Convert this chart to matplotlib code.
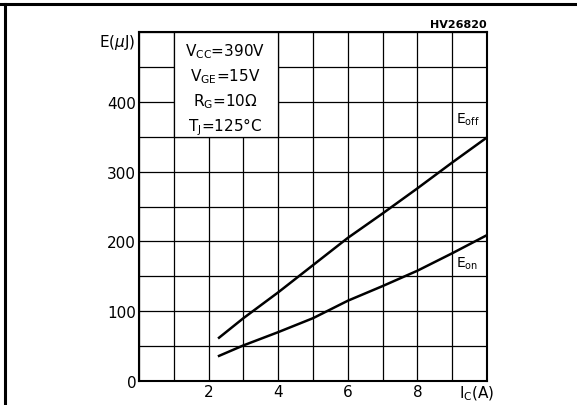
import numpy as np
import matplotlib
matplotlib.use('Agg')
import matplotlib.pyplot as plt
from matplotlib.patches import Rectangle
from matplotlib.lines import Line2D

# dados
ic = [2.3, 3, 4, 5, 6, 7, 8, 9, 10]
e_off = [62, 90, 127, 166, 205, 240, 276, 313, 349]
e_on = [36, 51, 70, 90, 115, 136, 158, 183, 209]

x_ticks = [2, 4, 6, 8]
y_ticks = [0, 100, 200, 300, 400]
condicoes = [r'V$_{\rm CC}$=390V', r'V$_{\rm GE}$=15V',
             r'R$_{\rm G}$=10$\Omega$', r'T$_{\rm J}$=125°C']

plt.rcParams['font.family'] = ['DejaVu Sans']

fig = plt.figure(figsize=(5.77, 4.06), dpi=100)
ax = fig.add_axes([0.2409, 0.0591, 0.6031, 0.8596])

ax.set_xlim(0, 10)
ax.set_ylim(0, 500)
ax.set_axisbelow(True)
ax.set_xticks(np.arange(0, 11, 1))
ax.set_yticks(np.arange(0, 501, 50))
ax.grid(True, color='black', linewidth=0.9)
ax.set_xticklabels(['' if t not in x_ticks else str(t) for t in range(0, 11)])
ax.set_yticklabels(['' if t not in y_ticks else str(t) for t in range(0, 501, 50)])
ax.tick_params(length=0, pad=2, labelsize=11)
for s in ax.spines.values():
    s.set_linewidth(1.5)

# curvas
ax.plot(ic, e_off, color='black', linewidth=1.8, zorder=3)
ax.plot(ic, e_on, color='black', linewidth=1.8, zorder=3)

# caixa com condicoes de teste
ax.add_patch(Rectangle((1, 350), 3, 150, facecolor='white', edgecolor='black',
                       linewidth=0.9, zorder=2))
for i, txt in enumerate(condicoes):
    ax.text(2.47, 473 - i * 36, txt, ha='center', va='center', fontsize=11, zorder=4)

ax.text(9.1, 375, r'E$_{\rm off}$', fontsize=10, va='center', ha='left')
ax.text(9.1, 170, r'E$_{\rm on}$', fontsize=10, va='center', ha='left')

ax.text(-0.1, 486, r'E($\mu$J)', ha='right', va='center', fontsize=11)
ax.text(9.7, -4, r'I$_{\rm C}$(A)', ha='center', va='top', fontsize=11)
ax.text(10, 504, 'HV26820', ha='right', va='bottom', fontsize=8, fontweight='bold')

# moldura
fig.add_artist(Line2D([0, 1], [1 - 5 / 406, 1 - 5 / 406], color='black', linewidth=2.2))
fig.add_artist(Line2D([4.5 / 577, 4.5 / 577], [0, 1 - 5 / 406], color='black', linewidth=2.2))

fig.savefig('out.png', dpi=100)
